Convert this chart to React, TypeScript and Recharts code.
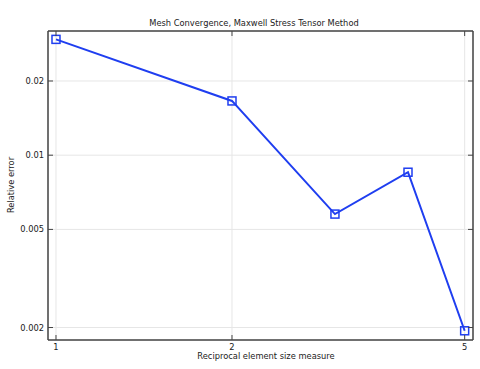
import { LineChart, Line, XAxis, YAxis, CartesianGrid } from 'recharts'

// reciprocal element size measure vs relative error
const sizes = [1, 2, 3, 4, 5]
const errors = [0.0295, 0.0166, 0.00577, 0.00853, 0.00194]
const xTicks = [1, 2, 5]
const yTicks = [0.002, 0.005, 0.01, 0.02]

const data = sizes.map((s, i) => ({ size: s, err: errors[i] }))

const FONT = 'DejaVu Sans, sans-serif'
const BLUE = '#1f3ef0'
const AXIS = '#444'
const FS = 8.3

const Square = (props: any) => {
  const { cx, cy } = props
  if (cx == null || cy == null) return null
  return <rect x={cx - 4} y={cy - 4} width={8} height={8} fill="none" stroke={BLUE} strokeWidth={1.5} />
}

const BottomTick = ({ x, y, payload }: any) => (
  <g>
    <line x1={x} y1={y} x2={x} y2={y - 5} stroke={AXIS} />
    <text x={x} y={y + 10} textAnchor="middle" fontSize={FS} fontFamily={FONT} fill="#222">
      {payload.value}
    </text>
  </g>
)

const TopTick = ({ x, y }: any) => <line x1={x} y1={y} x2={x} y2={y + 5} stroke={AXIS} />

const LeftTick = ({ x, y, payload }: any) => (
  <g>
    <line x1={x} y1={y} x2={x + 5} y2={y} stroke={AXIS} />
    <text x={x - 4} y={y + 3} textAnchor="end" fontSize={FS} fontFamily={FONT} fill="#222">
      {payload.value}
    </text>
  </g>
)

const RightTick = ({ x, y }: any) => <line x1={x} y1={y} x2={x - 5} y2={y} stroke={AXIS} />

export default function App() {
  return (
    <div style={{ position: 'absolute', left: 0, top: 0, width: 480, height: 369, background: '#fff' }}>
      <LineChart width={480} height={369} data={data} margin={{ top: 30, right: 6, bottom: 0, left: 0 }}>
        <text x={254} y={26} textAnchor="middle" fontSize={FS} fontFamily={FONT} fill="#222">
          Mesh Convergence, Maxwell Stress Tensor Method
        </text>
        <text
          x={14}
          y={185}
          transform="rotate(-90 14 185)"
          textAnchor="middle"
          fontSize={FS}
          fontFamily={FONT}
          fill="#222"
        >
          Relative error
        </text>
        <text x={266} y={359} textAnchor="middle" fontSize={FS} fontFamily={FONT} fill="#222">
          Reciprocal element size measure
        </text>
        <CartesianGrid stroke="#e6e6e6" strokeWidth={1} />
        <XAxis
          dataKey="size"
          type="number"
          scale="log"
          domain={[0.969, 5.167]}
          allowDataOverflow
          ticks={xTicks}
          height={29}
          tickSize={0}
          tickMargin={0}
          tick={<BottomTick />}
          tickLine={false}
          axisLine={{ stroke: AXIS, strokeWidth: 1.5 }}
          interval={0}
        />
        <XAxis
          xAxisId="top"
          orientation="top"
          dataKey="size"
          type="number"
          scale="log"
          domain={[0.969, 5.167]}
          allowDataOverflow
          ticks={xTicks}
          height={1}
          tickSize={0}
          tickMargin={0}
          tick={<TopTick />}
          tickLine={false}
          axisLine={{ stroke: AXIS, strokeWidth: 1.5 }}
          interval={0}
        />
        <YAxis
          type="number"
          scale="log"
          domain={[0.00178, 0.0319]}
          allowDataOverflow
          ticks={yTicks}
          width={48}
          tickSize={0}
          tickMargin={0}
          tick={<LeftTick />}
          tickLine={false}
          axisLine={{ stroke: AXIS, strokeWidth: 1.5 }}
          interval={0}
        />
        <YAxis
          yAxisId="right"
          orientation="right"
          type="number"
          scale="log"
          domain={[0.00178, 0.0319]}
          allowDataOverflow
          ticks={yTicks}
          width={1}
          tickSize={0}
          tickMargin={0}
          tick={<RightTick />}
          tickLine={false}
          axisLine={{ stroke: AXIS, strokeWidth: 1.5 }}
          interval={0}
        />
        <Line
          dataKey="err"
          stroke={BLUE}
          strokeWidth={2}
          dot={<Square />}
          activeDot={false}
          isAnimationActive={false}
        />
      </LineChart>
    </div>
  )
}
